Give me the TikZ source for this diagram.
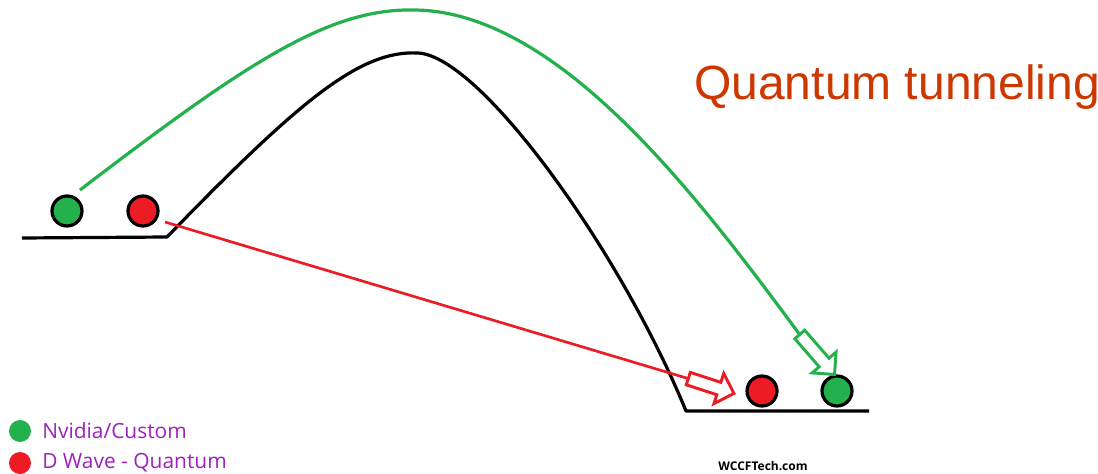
\documentclass[tikz,border=0pt]{standalone}
\usepackage{fontspec}
\setmainfont{Liberation Sans}
\newfontfamily\legfont{Open Sans}
\usetikzlibrary{shapes.arrows}
\definecolor{pgreen}{RGB}{34,177,76}
\definecolor{pred}{RGB}{237,28,36}
\definecolor{ptitle}{RGB}{205,55,0}
\definecolor{ppurple}{RGB}{160,32,190}
\tikzset{
  ball/.style={circle,draw=black,line width=2.4pt,minimum size=22.5pt,inner sep=0pt},
  dot/.style={circle,minimum size=16.5pt,inner sep=0pt},
  hollow/.style={single arrow,line width=2.2pt,fill=white,minimum height=#1*0.75pt,
    inner xsep=0pt,inner ysep=3.8pt,single arrow head extend=7pt,single arrow tip angle=90},
  legtxt/.style={anchor=west,text=ppurple,font=\legfont\fontsize{15.7}{18}\selectfont,inner sep=0pt}
}
\begin{document}
\begin{tikzpicture}[x=0.75pt,y=-0.75pt]
\useasboundingbox[fill=white] (0,0) rectangle (1098,474);
% ground and barrier
\coordinate (gl) at (22,238);
\coordinate (gb) at (167,237);
\coordinate (peak) at (418,53);
\coordinate (gbr) at (686,411);
\coordinate (gr) at (869,411);
\draw[line width=2.4pt,line join=round] (gl) -- (gb) .. controls (300,100) and (360,50) .. (peak)
  .. controls (480,56) and (620,250) .. (gbr) -- (gr);
% balls
\node[ball,fill=pgreen] (g1) at (67,211) {};
\node[ball,fill=pred] (r1) at (143,211) {};
\node[ball,fill=pred] (r2) at (762,391) {};
\node[ball,fill=pgreen] (g2) at (837,391) {};
% arrows
\node[hollow=48,draw=pred,rotate=-18] (ra) at (708,385) {};
\node[hollow=53,draw=pgreen,rotate=-49] (ga) at (815,352) {};
% trajectories
\coordinate (rs) at (165,222);
\coordinate (gs) at (80,190);
\coordinate (gtop) at (415,10);
\draw[pred,line width=2pt] (rs) -- (ra.tail);
\draw[pgreen,line width=2.4pt] (gs) .. controls (250,60) and (330,8) .. (gtop)
  .. controls (560,12) and (700,200) .. (ga.tail);
% title
\node[anchor=base west,text=ptitle,font=\fontsize{36}{40}\selectfont,inner sep=0pt] (title) at (694,100) {Quantum tunneling};
% legend
\node[dot,fill=pgreen] (lg) at (20,431) {};
\node[dot,fill=pred] (lr) at (20,463) {};
\node[legtxt] (lgt) at (42,431) {Nvidia/Custom};
\node[legtxt] (lrt) at (42,463) {D Wave - Quantum};
% watermark
\node[font=\legfont\bfseries\fontsize{9}{11}\selectfont,inner sep=0pt] (wm) at (763,466) {WCCFTech.com};
\end{tikzpicture}
\end{document}
